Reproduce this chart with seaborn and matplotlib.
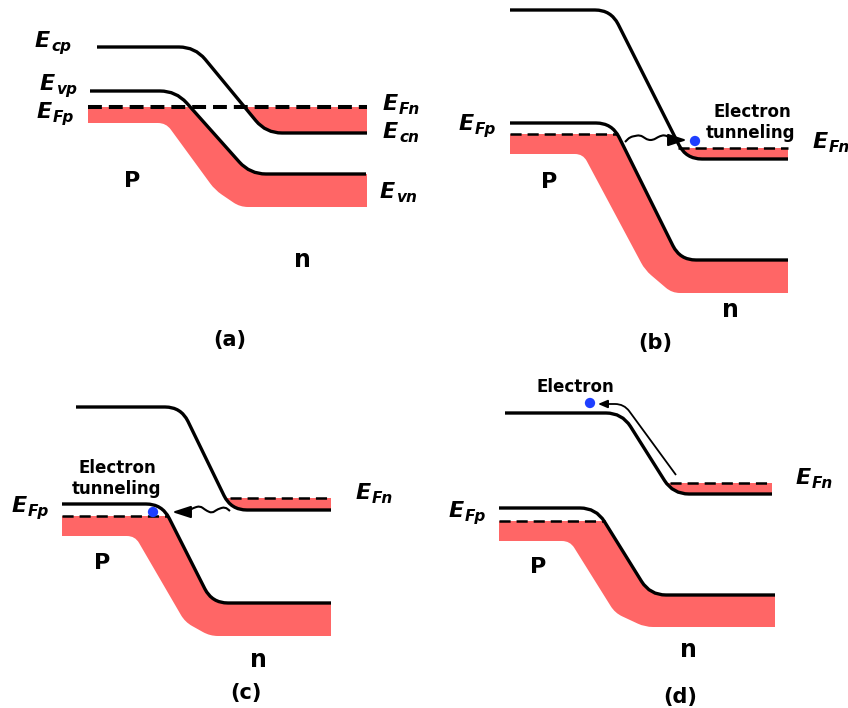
import numpy as np
import matplotlib
matplotlib.use("Agg")
import matplotlib.pyplot as plt
import seaborn as sns
from matplotlib.path import Path
from matplotlib.patches import PathPatch, Rectangle

# band edges (pixel coords, y down); corners of each band line
# panel (a)
A_EC = [(97, 47), (195, 47), (266, 133), (367, 133)]
A_EV = [(90, 91), (176, 91), (250, 174), (366, 174)]
A_RED = [(88, 123), (166, 123), (215, 190), (240, 207), (367, 207)]
A_EF = [88, 367, 107]
# panel (b)
B_EC = [(510, 10), (611, 10), (686, 159), (788, 159)]
B_EV = [(510, 123), (612, 123), (680, 260), (788, 260)]
B_RED = [(510, 154), (583, 154), (645, 270), (672, 293), (788, 293)]
B_EFP = [510, 617, 134]
B_EFN = [678, 788, 148]
B_WAVE = [(625, 142), (630, 137), (640, 135), (648, 140), (653, 140),
          (660, 136), (665, 135), (670, 138), (673, 140)]
B_TIP = (687, 140)
B_DOT = (695, 141)
# panel (c)
C_EC = [(76, 407), (181, 407), (231, 510), (331, 510)]
C_EV = [(62, 504), (162, 504), (212, 603), (331, 603)]
C_RED = [(62, 536), (135, 536), (185, 622), (210, 636), (331, 636)]
C_EFP = [62, 167, 516]
C_EFN = [230, 331, 498]
C_WAVE = [(230, 511), (225, 507), (218, 509), (212, 513), (207, 511),
          (200, 506), (193, 508), (187, 512)]
C_TIP = (172, 512)
C_DOT = (153, 512)
# panel (d)
D_EC = [(505, 413), (622, 413), (673, 494), (772, 494)]
D_EV = [(499, 508), (596, 508), (650, 595), (775, 595)]
D_RED = [(499, 541), (570, 541), (615, 613), (645, 627), (775, 627)]
D_EFP = [499, 605, 521]
D_EFN = [670, 772, 483]
D_PATH = [(676, 475), (624, 404), (606, 404)]
D_TIP = (598, 404)
D_DOT = (590, 403)

# energy labels: subscript, left x, baseline y
E_LABELS = [("cp", 35, 47), ("vp", 40, 90), ("Fp", 37, 118), ("Fn", 383, 110),
            ("cn", 383, 138), ("vn", 380, 198),
            ("Fp", 459, 130), ("Fn", 813, 148),
            ("Fp", 12, 512), ("Fn", 356, 499),
            ("Fn", 796, 484), ("Fp", 449, 517)]
# bold labels: text, centre x, baseline y, size
TEXTS = [("P", 132, 187, 16), ("n", 302, 267, 17), ("(a)", 230, 346, 15),
         ("P", 549, 188, 16), ("n", 730, 317, 17), ("(b)", 655, 349, 15),
         ("P", 102, 569, 16), ("n", 258, 667, 17), ("(c)", 246, 699, 15),
         ("P", 538, 573, 16), ("n", 688, 657, 17), ("(d)", 680, 703, 15),
         ("Electron", 752, 117, 12), ("tunneling", 751, 138, 12),
         ("Electron", 117, 473, 12), ("tunneling", 117, 494, 12),
         ("Electron", 575, 392, 12)]

RED = "#FF6666"
BLUE = "#1F3FFF"
R_BAND = 16
R_RED = 8

sns.set_theme(style="white")
plt.rcParams["font.family"] = ["DejaVu Sans"]
plt.rcParams["text.color"] = "black"
plt.rcParams["lines.scale_dashes"] = False


def rounded(points, radii):
    pts = np.asarray(points, float)
    rs = np.broadcast_to(np.asarray(radii, float), (len(pts),))
    verts, codes = [pts[0]], [Path.MOVETO]
    for i in range(1, len(pts) - 1):
        p, c, q = pts[i - 1], pts[i], pts[i + 1]
        if rs[i] <= 0:
            verts.append(c)
            codes.append(Path.LINETO)
            continue
        d1, d2 = p - c, q - c
        l1, l2 = np.hypot(*d1), np.hypot(*d2)
        r = min(rs[i], l1 / 2, l2 / 2)
        verts += [c + d1 / l1 * r, c, c + d2 / l2 * r]
        codes += [Path.LINETO, Path.CURVE3, Path.CURVE3]
    verts.append(pts[-1])
    codes.append(Path.LINETO)
    return Path(verts, codes)


fig = plt.figure(figsize=(8.48, 7.08), dpi=100)
ax = fig.add_axes([0, 0, 1, 1])


def below(y):
    return Rectangle((0, y), 848, 708, transform=ax.transData)


def band(ec, ev, red, ef_p, ef_n, big):
    # filled valence side, cut at the p-side Fermi level
    top = [(red[0][0], ev[0][1])] + ev[1:-1] + [(red[-1][0], ev[-1][1])]
    radii = [0] + [R_BAND] * (len(ev) - 2) + [0, 0] + [R_RED] * (len(red) - 2) + [0]
    pp = PathPatch(rounded(top + red[::-1], radii), facecolor=RED, edgecolor="none", zorder=1)
    ax.add_patch(pp)
    pp.set_clip_path(below(ef_p[2]))
    # filled conduction side under the n-side Fermi level
    cpoly = ec + [(ec[-1][0], ec[0][1] - 80), (ec[0][0], ec[0][1] - 80)]
    cr = [0] + [R_BAND] * (len(ec) - 2) + [0, 0, 0]
    cp = PathPatch(rounded(cpoly, cr), facecolor=RED, edgecolor="none", zorder=1)
    ax.add_patch(cp)
    cp.set_clip_path(below(ef_n[2]))
    lw_ef = 2.9 if big else 1.8
    dash = (0, (10, 5)) if big else (0, (8, 4.3))
    for ef in {tuple(ef_p), tuple(ef_n)}:
        sns.lineplot(x=[ef[0], ef[1]], y=[ef[2], ef[2]], ax=ax, color="black",
                     lw=lw_ef, linestyle=dash, sort=False, estimator=None, zorder=3)
    for line in (ec, ev):
        ax.add_patch(PathPatch(rounded(line, R_BAND), fill=False, edgecolor="black",
                               lw=2.4, capstyle="butt", zorder=4))


band(A_EC, A_EV, A_RED, A_EF, A_EF, True)
band(B_EC, B_EV, B_RED, B_EFP, B_EFN, False)
band(C_EC, C_EV, C_RED, C_EFP, C_EFN, False)
band(D_EC, D_EV, D_RED, D_EFP, D_EFN, False)

# tunnelling waves and arrows
for wave, tip in [(B_WAVE, B_TIP), (C_WAVE, C_TIP)]:
    ax.add_patch(PathPatch(rounded(wave, 3), fill=False, edgecolor="black", lw=1.5, zorder=5))
    ax.annotate("", xy=tip, xytext=wave[-1],
                arrowprops=dict(arrowstyle="-|>,head_length=0.8,head_width=0.26",
                                color="black", lw=1.5, shrinkA=0, shrinkB=0,
                                mutation_scale=14), zorder=5)
ax.add_patch(PathPatch(rounded(D_PATH, 18), fill=False, edgecolor="black", lw=1.3, zorder=5))
ax.annotate("", xy=D_TIP, xytext=D_PATH[-1],
            arrowprops=dict(arrowstyle="-|>,head_length=0.4,head_width=0.17",
                            color="black", lw=1.3, shrinkA=0, shrinkB=0,
                            mutation_scale=14), zorder=5)

dots = [B_DOT, C_DOT, D_DOT]
sns.scatterplot(x=[d[0] for d in dots], y=[d[1] for d in dots], ax=ax, color=BLUE,
                s=55, edgecolor="none", zorder=6)

for sub, x, y in E_LABELS:
    ax.text(x, y, "E", fontsize=16, fontweight="bold", fontstyle="italic",
            ha="left", va="baseline", zorder=7)
    ax.text(x + 16, y + 4, sub, fontsize=11, fontweight="bold", fontstyle="italic",
            ha="left", va="baseline", zorder=7)
for s, x, y, size in TEXTS:
    ax.text(x, y, s, fontsize=size, fontweight="bold", ha="center", va="baseline", zorder=7)

ax.set_xlim(0, 848)
ax.set_ylim(708, 0)
ax.axis("off")
fig.savefig("out.png", dpi=100, facecolor="white")
